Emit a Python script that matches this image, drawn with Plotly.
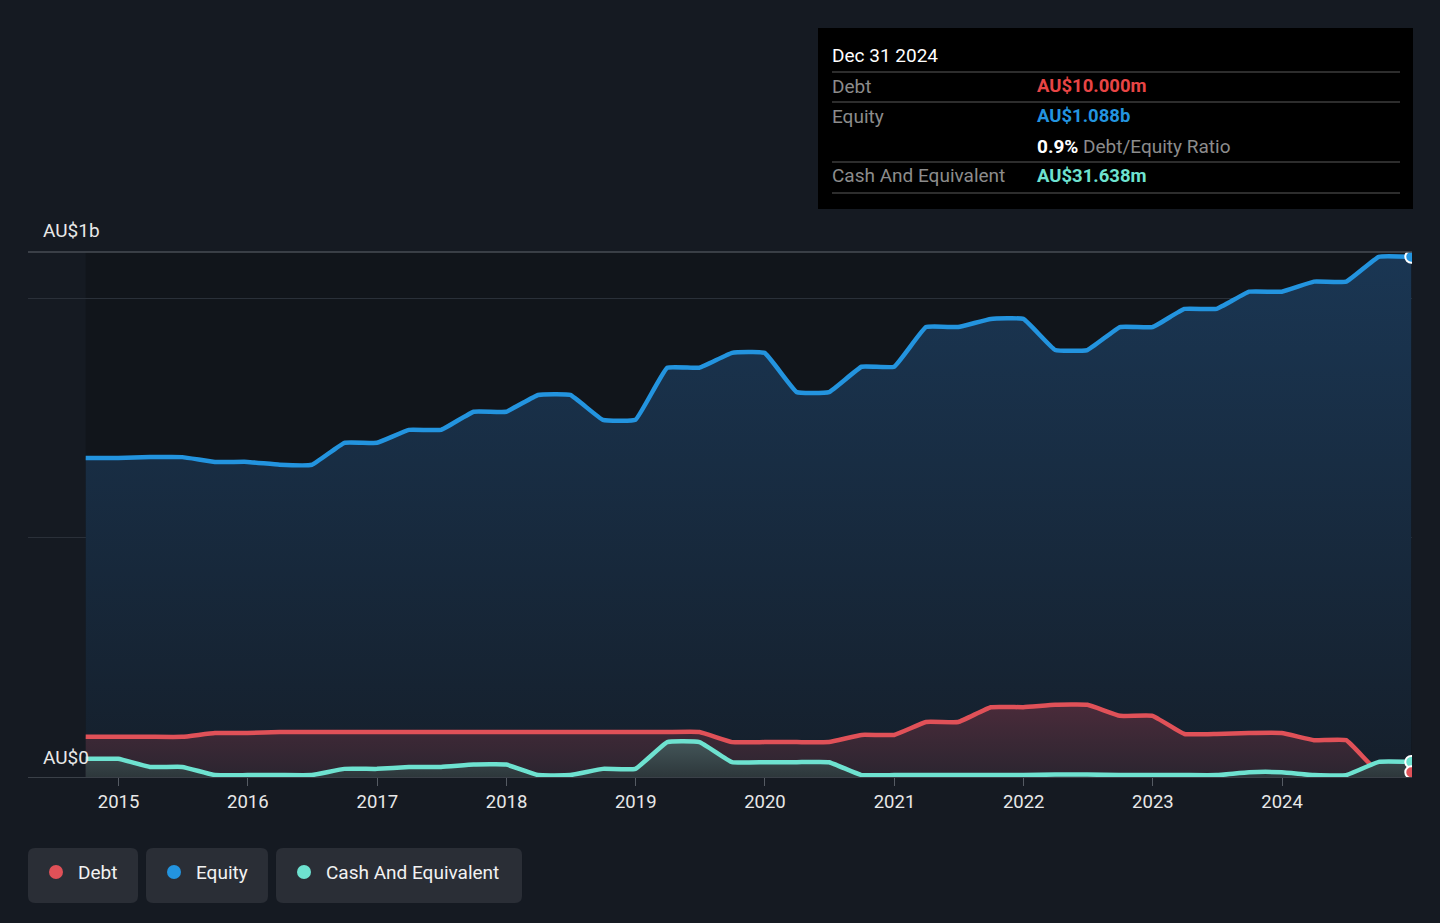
import plotly.graph_objects as go

# ---------------- data (AU$ billions, quarterly) ----------------
dates = [
    "2014-09-30", "2014-12-31", "2015-03-31", "2015-06-30", "2015-09-30", "2015-12-31",
    "2016-03-31", "2016-06-30", "2016-09-30", "2016-12-31", "2017-03-31", "2017-06-30",
    "2017-09-30", "2017-12-31", "2018-03-31", "2018-06-30", "2018-09-30", "2018-12-31",
    "2019-03-31", "2019-06-30", "2019-09-30", "2019-12-31", "2020-03-31", "2020-06-30",
    "2020-09-30", "2020-12-31", "2021-03-31", "2021-06-30", "2021-09-30", "2021-12-31",
    "2022-03-31", "2022-06-30", "2022-09-30", "2022-12-31", "2023-03-31", "2023-06-30",
    "2023-09-30", "2023-12-31", "2024-03-31", "2024-06-30", "2024-09-30", "2024-12-31",
]
equity = [
    0.667, 0.667, 0.669, 0.669, 0.659, 0.659,
    0.653, 0.653, 0.699, 0.699, 0.726, 0.726,
    0.764, 0.764, 0.799, 0.799, 0.747, 0.747,
    0.856, 0.856, 0.887, 0.887, 0.805, 0.805,
    0.858, 0.858, 0.941, 0.941, 0.958, 0.958,
    0.893, 0.893, 0.941, 0.941, 0.979, 0.979,
    1.015, 1.015, 1.036, 1.036, 1.088, 1.088,
]
debt = [
    0.084, 0.084, 0.084, 0.084, 0.092, 0.092,
    0.094, 0.094, 0.094, 0.094, 0.094, 0.094,
    0.094, 0.094, 0.094, 0.094, 0.094, 0.094,
    0.094, 0.094, 0.073, 0.073, 0.073, 0.073,
    0.088, 0.088, 0.115, 0.115, 0.146, 0.146,
    0.151, 0.151, 0.128, 0.128, 0.090, 0.090,
    0.092, 0.092, 0.077, 0.077, 0.010, 0.010,
]
cash = [
    0.038, 0.038, 0.021, 0.021, 0.004, 0.004,
    0.004, 0.004, 0.017, 0.017, 0.021, 0.021,
    0.026, 0.026, 0.004, 0.004, 0.017, 0.017,
    0.073, 0.073, 0.031, 0.031, 0.031, 0.031,
    0.004, 0.004, 0.004, 0.004, 0.004, 0.004,
    0.005, 0.005, 0.004, 0.004, 0.004, 0.004,
    0.010, 0.010, 0.004, 0.004, 0.0316, 0.0316,
]
year_ticks = ["2015", "2016", "2017", "2018", "2019", "2020", "2021", "2022", "2023", "2024"]

# ---------------- styling ----------------
W, H = 1440, 923
L, R, T, B = 28, 1412, 252, 777
BG = "#151a22"
FONT = "Roboto"
C_DEBT = "#e05158"
C_EQ = "#2394df"
C_CASH = "#6ee2d0"


def px(x):
    return (x - L) / (R - L)


def py(y):
    return (B - y) / (B - T)


def rrect(x0, y0, x1, y1, r):
    pts = [
        ("M", [(x0 + r, y0)]), ("L", [(x1 - r, y0)]), ("Q", [(x1, y0), (x1, y0 + r)]),
        ("L", [(x1, y1 - r)]), ("Q", [(x1, y1), (x1 - r, y1)]), ("L", [(x0 + r, y1)]),
        ("Q", [(x0, y1), (x0, y1 - r)]), ("L", [(x0, y0 + r)]), ("Q", [(x0, y0), (x0 + r, y0)]),
    ]
    s = ""
    for cmd, ps in pts:
        s += cmd + " " + " ".join(f"{px(a):.5f},{py(b):.5f}" for a, b in ps) + " "
    return s + "Z"


fig = go.Figure()

line_shape = dict(shape="spline", smoothing=0.3)
LW = 4.5

fig.add_trace(go.Scatter(
    x=dates, y=equity, mode="lines", name="Equity",
    line=dict(color=C_EQ, width=LW, **line_shape),
    fill="tozeroy",
    fillgradient=dict(type="vertical", start=0, stop=1.088,
                      colorscale=[[0, "#151f2b"], [1, "#1a3653"]]),
    hoverinfo="skip",
))
fig.add_trace(go.Scatter(
    x=dates, y=debt, mode="lines", name="Debt",
    line=dict(color=C_DEBT, width=LW, **line_shape),
    fill="tozeroy",
    fillgradient=dict(type="vertical", start=0, stop=0.151,
                      colorscale=[[0, "#2b2530"], [1, "#4a2b3a"]]),
    hoverinfo="skip",
))
fig.add_trace(go.Scatter(
    x=dates, y=cash, mode="lines", name="Cash And Equivalent",
    line=dict(color=C_CASH, width=LW, **line_shape),
    fill="tozeroy",
    fillgradient=dict(type="vertical", start=0, stop=0.073,
                      colorscale=[[0, "#2d373b"], [1, "#435558"]]),
    hoverinfo="skip",
))
# end markers
for ser, col in ((equity, C_EQ), (cash, C_CASH), (debt, C_DEBT)):
    fig.add_trace(go.Scatter(
        x=[dates[-1]], y=[ser[-1]], mode="markers",
        marker=dict(color=col, size=12, line=dict(color="white", width=2)),
        hoverinfo="skip", showlegend=False,
    ))

shapes = []
annotations = []

# darker data region
shapes.append(dict(type="rect", xref="x", yref="paper", x0=dates[0], x1="2025-01-06",
                   y0=0, y1=1, fillcolor="#11151b", line=dict(width=0), layer="below"))
# top line
shapes.append(dict(type="line", xref="paper", yref="paper", x0=0, x1=1, y0=1, y1=1,
                   line=dict(color="#474c54", width=1.5)))

# y labels
annotations.append(dict(text="AU$1b", x=px(41), y=py(230), xref="paper", yref="paper",
                        xanchor="left", yanchor="middle", showarrow=False,
                        font=dict(family=FONT, size=19, color="#e8e8e8")))
annotations.append(dict(text="AU$0", x=px(41), y=py(757), xref="paper", yref="paper",
                        xanchor="left", yanchor="middle", showarrow=False,
                        font=dict(family=FONT, size=19, color="#e8e8e8")))

# tooltip box
shapes.append(dict(type="rect", xref="paper", yref="paper", x0=px(818), x1=px(1413),
                   y0=py(209), y1=py(28), fillcolor="#000000", line=dict(width=0)))
for ly in (72, 102, 162, 193):
    shapes.append(dict(type="line", xref="paper", yref="paper", x0=px(832), x1=px(1400),
                       y0=py(ly), y1=py(ly), line=dict(color="#3c3c3c", width=1.5)))


def txt(t, x, y, color, size=19, anchor="left"):
    annotations.append(dict(text=t, x=px(x), y=py(y), xref="paper", yref="paper",
                            xanchor=anchor, yanchor="middle", showarrow=False,
                            font=dict(family=FONT, size=size, color=color)))


txt("Dec 31 2024", 830, 55, "#ffffff")
txt("Debt", 830, 86, "#8c8c8c")
txt("<b>AU$10.000m</b>", 1035, 86, "#e84545", size=18.5)
txt("Equity", 830, 116, "#8c8c8c")
txt("<b>AU$1.088b</b>", 1035, 116, "#2394df", size=18.5)
txt("<b>0.9%</b> <span style='color:#8c8c8c'>Debt/Equity Ratio</span>", 1035, 146, "#ffffff")
txt("Cash And Equivalent", 830, 176, "#8c8c8c")
txt("<b>AU$31.638m</b>", 1035, 176, "#6ee2d0", size=18.5)

# legend buttons
legend_items = [("Debt", C_DEBT, 28, 138), ("Equity", C_EQ, 146, 268),
                ("Cash And Equivalent", C_CASH, 276, 522)]
for name, col, x0, x1 in legend_items:
    shapes.append(dict(type="path", xref="paper", yref="paper", path=rrect(x0, 848, x1, 903, 7),
                       fillcolor="#2a2e36", line=dict(width=0)))
    shapes.append(dict(type="circle", xref="paper", yref="paper",
                       x0=px(x0 + 21), x1=px(x0 + 35), y0=py(879), y1=py(865),
                       fillcolor=col, line=dict(width=0)))
    txt(name, x0 + 48, 872, "#f2f2f2", size=19)

fig.update_layout(
    width=W, height=H,
    margin=dict(l=L, r=W - R, t=T, b=H - B),
    paper_bgcolor=BG, plot_bgcolor=BG,
    showlegend=False,
    shapes=shapes, annotations=annotations,
    font=dict(family=FONT, color="#e8e8e8"),
    xaxis=dict(
        type="date", range=["2014-04-20", "2025-01-02"],
        tickvals=[f"{y}-01-01" for y in year_ticks], ticktext=year_ticks,
        ticks="outside", ticklen=8, tickcolor="#555b63", tickwidth=1,
        tickfont=dict(family=FONT, size=18.5, color="#e8e8e8"),
        showline=True, linecolor="#3a4048", linewidth=1,
        showgrid=False, zeroline=False, fixedrange=True,
    ),
    yaxis=dict(
        range=[0, 1.098], tickvals=[0.5, 1.0], showticklabels=False,
        showgrid=True, gridcolor="#2a3039", gridwidth=1,
        zeroline=False, showline=False, fixedrange=True,
    ),
)

fig.write_html(
    "out.html",
    config={"displayModeBar": False},
    post_script="document.body.style.margin='0';document.body.style.background='#151a22';",
)
